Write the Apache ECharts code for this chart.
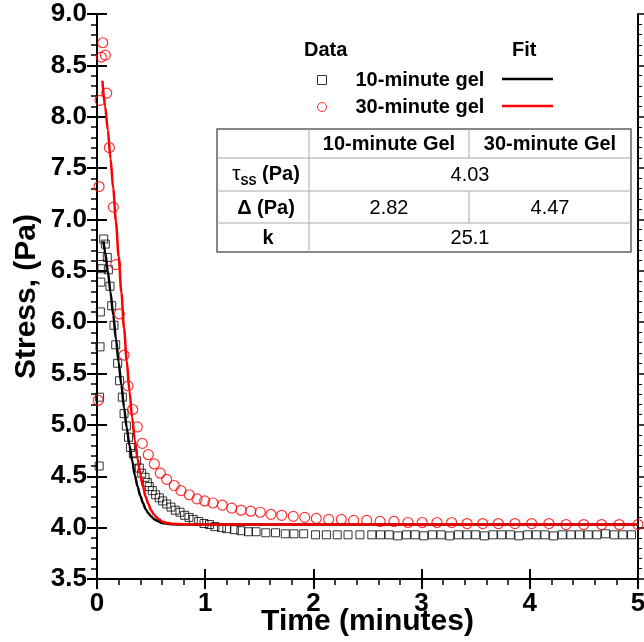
<!DOCTYPE html>
<html><head><meta charset="utf-8">
<script src="https://cdn.jsdelivr.net/npm/echarts@6/dist/echarts.min.js"></script>
<style>html,body{margin:0;padding:0;background:#fff}#c{width:644px;height:642px}</style>
</head><body><div id="c"></div>
<script>
// ---- Data ----
const gel10Time = [0.020,0.024,0.028,0.031,0.035,0.040,0.046,0.062,0.077,0.095,0.105,0.120,0.136,0.157,0.173,0.191,0.209,0.234,0.250,0.271,0.291,0.309,
  0.336,0.366,0.391,0.413,0.444,0.465,0.483,0.511,0.542,0.576,0.607,0.644,0.684,0.724,0.767,0.810,0.850,0.890,0.940,0.989,
  1.04,1.09,1.15,1.20,1.27,1.33,1.40,1.47,1.56,1.65,1.74,1.82,1.91,2.02,2.12,2.22,2.32,2.43,2.54,
  2.62,2.70,2.78,2.86,2.94,3.02,3.10,3.18,3.26,3.34,3.42,3.50,3.58,3.66,3.74,3.82,3.90,3.98,4.06,4.14,4.22,4.30,4.38,4.46,4.54,4.62,4.70,4.78,4.86,4.94];
const gel10Stress = [4.60,5.27,5.76,6.10,6.39,6.64,6.52,6.81,6.76,6.63,6.51,6.35,6.16,5.97,5.78,5.60,5.43,5.27,5.11,4.99,4.88,4.78,
  4.72,4.65,4.58,4.53,4.49,4.44,4.40,4.36,4.32,4.29,4.26,4.23,4.20,4.17,4.15,4.12,4.10,4.08,4.06,4.04,
  4.03,4.01,4.00,3.99,3.98,3.97,3.96,3.96,3.95,3.95,3.94,3.94,3.94,3.93,3.93,3.93,3.93,3.93,3.93,
  3.93,3.93,3.92,3.93,3.93,3.92,3.93,3.93,3.92,3.93,3.93,3.93,3.92,3.93,3.93,3.93,3.92,3.93,3.93,3.93,3.92,3.93,3.93,3.93,3.93,3.93,3.94,3.93,3.93,3.93];

const gel30Time = [0.012,0.019,0.028,0.040,0.053,0.077,0.090,0.114,0.151,0.173,0.206,0.250,0.287,0.330,0.372,0.419,0.474,0.530,0.585,0.644,
  0.714,0.776,0.853,0.924,0.995,1.072,1.158,1.245,1.331,1.421,1.509,1.608,1.707,1.814,1.920,2.027,2.141,2.258,2.372,2.493,
  2.616,2.745,2.874,3.006,3.142,3.278,3.420,3.565,3.709,3.863,4.017,4.177,4.335,4.498,4.664,4.827,5.000];
const gel30Stress = [5.24,7.32,8.16,8.58,8.72,8.60,8.23,7.70,7.12,6.56,6.08,5.68,5.38,5.15,4.98,4.82,4.71,4.62,4.53,4.47,
  4.41,4.36,4.32,4.28,4.26,4.24,4.22,4.19,4.17,4.16,4.15,4.13,4.12,4.11,4.10,4.09,4.08,4.08,4.07,4.07,
  4.06,4.06,4.05,4.05,4.05,4.05,4.04,4.04,4.04,4.04,4.04,4.04,4.03,4.03,4.03,4.03,4.03];

const fit10Time = [0.06,0.075,0.10,0.125,0.15,0.175,0.20,0.225,0.25,0.275,0.30,0.325,0.35,0.375,0.40,0.425,0.45,0.475,0.50,0.525,0.55,0.60,0.65,0.70,0.80,1.0,2.0,3.0,4.0,5.0];
const fit10Stress = [6.79,6.68,6.50,6.29,6.07,5.84,5.61,5.39,5.17,4.97,4.80,4.65,4.51,4.40,4.31,4.24,4.18,4.14,4.11,4.085,4.07,4.046,4.037,4.033,4.03,4.03,4.03,4.03,4.03,4.03];

const fit30Time = [0.05,0.075,0.10,0.125,0.15,0.175,0.20,0.225,0.25,0.275,0.30,0.325,0.35,0.375,0.40,0.425,0.45,0.475,0.50,0.525,0.55,0.575,0.60,0.65,0.70,0.80,1.0,2.0,3.0,4.0,5.0];
const fit30Stress = [8.35,8.10,7.87,7.59,7.30,6.98,6.64,6.29,5.94,5.62,5.33,5.07,4.85,4.67,4.52,4.40,4.30,4.23,4.17,4.13,4.10,4.08,4.06,4.045,4.037,4.032,4.03,4.03,4.03,4.03,4.03];

const seriesNames = ['10-minute gel', '30-minute gel'];
const tableHeader = ['10-minute Gel', '30-minute Gel'];
const tauSS = '4.03';
const deltaVals = ['2.82', '4.47'];
const kVal = '25.1';

// ---- Chart ----
const FONT = '"Liberation Sans", Arial, Helvetica, sans-serif';
const zip = (a, b) => a.map((v, i) => [v, b[i]]);
const chart = echarts.init(document.getElementById('c'), null, {renderer: 'canvas'});

const xBase = {type: 'value', min: 0, max: 5, interval: 1, gridIndex: 0, splitLine: {show: false}};
const yBase = {type: 'value', min: 3.5, max: 9, interval: 0.5, gridIndex: 0, splitLine: {show: false}};

// table geometry
const T = {l: 217, r: 631, t: 129, b: 252, c1: 309, c2: 469, r1: 158, r2: 191, r3: 223};
const inner = {stroke: '#a8a8a8', lineWidth: 1};
const line = (x1, y1, x2, y2, st) => ({type: 'line', shape: {x1, y1, x2, y2}, style: st, silent: true});
const TF = 20;
const txt = (x, y, text, bold) => ({type: 'text', x, y, silent: true, style: {text, x: 0, y: 0, align: 'center', verticalAlign: 'middle', font: (bold ? 'bold ' : '') + TF + 'px ' + FONT, fill: '#000'}});
const cy = (a, b) => (a + b) / 2;
const midAll = (T.c1 + T.r) / 2;

const tableEls = [
  {type: 'rect', shape: {x: T.l, y: T.t, width: T.r - T.l, height: T.b - T.t}, style: {fill: '#fff', stroke: '#606060', lineWidth: 1.5}, silent: true, z: 10},
  line(T.l, T.r1, T.r, T.r1, inner), line(T.l, T.r2, T.r, T.r2, inner), line(T.l, T.r3, T.r, T.r3, inner),
  line(T.c1, T.t, T.c1, T.b, inner), line(T.c2, T.t, T.c2, T.r1, inner), line(T.c2, T.r2, T.c2, T.r3, inner),
  txt((T.c1 + T.c2) / 2, cy(T.t, T.r1) + 1, tableHeader[0], true),
  txt((T.c2 + T.r) / 2, cy(T.t, T.r1) + 1, tableHeader[1], true),
  {type: 'text', x: (T.l + T.c1) / 2 + 3, y: cy(T.r1, T.r2), silent: true,
    style: {text: '{t|τ}{s|SS}{p| (Pa)}', x: 0, y: 0, align: 'center', verticalAlign: 'middle',
      rich: {t: {font: '21px ' + FONT, lineHeight: 26, fill: '#000'},
             s: {font: 'bold 12px ' + FONT, lineHeight: 15, verticalAlign: 'bottom', fill: '#000'},
             p: {font: 'bold 20px ' + FONT, lineHeight: 26, fill: '#000'}}}},
  txt(midAll, cy(T.r1, T.r2) + 1, tauSS, false),
  txt((T.l + T.c1) / 2 + 3, cy(T.r2, T.r3) + 1, 'Δ (Pa)', true),
  txt((T.c1 + T.c2) / 2, cy(T.r2, T.r3) + 1, deltaVals[0], false),
  txt((T.c2 + T.r) / 2, cy(T.r2, T.r3) + 1, deltaVals[1], false),
  txt((T.l + T.c1) / 2 + 5, cy(T.r3, T.b) + 1, 'k', true),
  txt(midAll, cy(T.r3, T.b) + 1, kVal, false)
];
tableEls.forEach((e, i) => { if (i > 0) e.z = 11; });

const LF = {fontSize: 20, fontWeight: 'bold', fontFamily: FONT, color: '#000'};

const option = {
  animation: false,
  backgroundColor: '#fff',
  grid: {left: 97, right: 6, top: 14, bottom: 63, containLabel: false, outerBoundsMode: 'none'},
  title: [
    {text: 'Data', left: 304, top: 40, padding: 0, textStyle: LF},
    {text: 'Fit', left: 512, top: 40, padding: 0, textStyle: LF}
  ],
  legend: [
    {data: [
       {name: seriesNames[0], icon: 'rect', itemStyle: {color: '#fff', borderColor: '#000', borderWidth: 1}},
       {name: seriesNames[1], icon: 'circle', itemStyle: {color: '#fff', borderColor: '#ff0000', borderWidth: 1}}],
     orient: 'vertical', left: 317, top: 70, padding: 0, itemWidth: 9, itemHeight: 9, itemGap: 7, selectedMode: false,
     textStyle: Object.assign({}, LF, {padding: [0, 0, 0, 24]})},
    {data: [seriesNames[0] + ' fit', seriesNames[1] + ' fit'], icon: 'rect',
     orient: 'vertical', left: 502, top: 69, padding: 0, itemWidth: 51, itemHeight: 2.5, itemGap: 7, selectedMode: false,
     formatter: () => ' ',
     textStyle: LF}
  ],
  xAxis: [
    Object.assign({}, xBase, {position: 'bottom',
      axisLine: {show: true, onZero: false, lineStyle: {color: '#000', width: 2}},
      axisTick: {show: true, inside: false, length: 10, lineStyle: {color: '#000', width: 2}},
      minorTick: {show: true, splitNumber: 5, length: 6, lineStyle: {color: '#000', width: 1.5}},
      axisLabel: {fontSize: 26, fontWeight: 'bold', fontFamily: FONT, color: '#000', margin: 12},
      name: 'Time (minutes)', nameLocation: 'middle', nameGap: 28, nameMoveOverlap: false,
      nameTextStyle: {fontSize: 30, fontWeight: 'bold', fontFamily: FONT, color: '#000', backgroundColor: '#fff', padding: [0, 2, 0, 2]}}),
    Object.assign({}, xBase, {position: 'bottom',
      axisLine: {show: false, onZero: false},
      axisTick: {show: true, inside: true, length: 10, lineStyle: {color: '#000', width: 2}},
      axisLabel: {show: false}})
  ],
  yAxis: [
    Object.assign({}, yBase, {position: 'left',
      axisLine: {show: true, onZero: false, lineStyle: {color: '#000', width: 2}},
      axisTick: {show: true, inside: false, length: 10, lineStyle: {color: '#000', width: 2}},
      minorTick: {show: true, splitNumber: 5, length: 6, lineStyle: {color: '#000', width: 1.5}},
      axisLabel: {fontSize: 26, fontWeight: 'bold', fontFamily: FONT, color: '#000', margin: 10, formatter: v => v.toFixed(1)},
      name: 'Stress, (Pa)', nameLocation: 'middle', nameGap: 55, nameRotate: 90, nameMoveOverlap: false,
      nameTextStyle: {fontSize: 30, fontWeight: 'bold', fontFamily: FONT, color: '#000'}}),
    Object.assign({}, yBase, {position: 'left',
      axisLine: {show: false, onZero: false},
      axisTick: {show: true, inside: true, length: 10, lineStyle: {color: '#000', width: 2}},
      axisLabel: {show: false}}),
    Object.assign({}, yBase, {position: 'right',
      axisLine: {show: true, onZero: false, lineStyle: {color: '#000', width: 2}},
      axisTick: {show: true, inside: false, length: 6, lineStyle: {color: '#000', width: 1.5}},
      minorTick: {show: true, splitNumber: 5, length: 4, lineStyle: {color: '#000', width: 1}},
      axisLabel: {show: false}})
  ],
  series: [
    {name: seriesNames[0], type: 'scatter', xAxisIndex: 0, yAxisIndex: 0, data: zip(gel10Time, gel10Stress),
     symbol: 'rect', symbolSize: 8, itemStyle: {color: 'rgba(255,255,255,0)', borderColor: '#000', borderWidth: 1}, z: 2},
    {name: seriesNames[1], type: 'scatter', xAxisIndex: 0, yAxisIndex: 0, data: zip(gel30Time, gel30Stress),
     symbol: 'circle', symbolSize: 10, itemStyle: {color: 'rgba(255,255,255,0)', borderColor: '#ff0000', borderWidth: 1.2}, z: 3},
    {name: seriesNames[0] + ' fit', type: 'line', xAxisIndex: 0, yAxisIndex: 0, data: zip(fit10Time, fit10Stress),
     showSymbol: false, symbol: 'none', smooth: 0.3, smoothMonotone: 'x', color: '#000', lineStyle: {color: '#000', width: 2.5}, z: 4},
    {name: seriesNames[1] + ' fit', type: 'line', xAxisIndex: 0, yAxisIndex: 0, data: zip(fit30Time, fit30Stress),
     showSymbol: false, symbol: 'none', smooth: 0.3, smoothMonotone: 'x', color: '#ff0000', lineStyle: {color: '#ff0000', width: 2.5}, z: 5}
  ],
  graphic: {elements: tableEls}
};
chart.setOption(option);
</script>
</body></html>
